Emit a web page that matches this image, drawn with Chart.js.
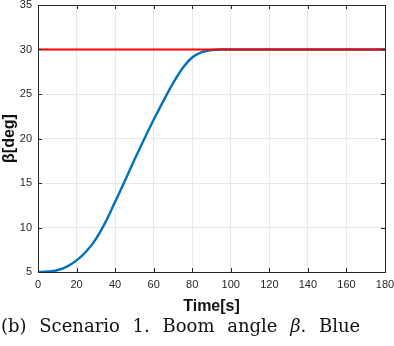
<!DOCTYPE html>
<html>
<head>
<meta charset="utf-8">
<script src="https://cdn.jsdelivr.net/npm/chart.js@4.4.1/dist/chart.umd.min.js"></script>
<style>
  html, body { margin: 0; padding: 0; background: #fff; }
  #wrap { position: relative; width: 394px; height: 346px; overflow: hidden; }
  #box { position: absolute; left: 0; top: 0; width: 394px; height: 316px; }
  #caption {
    position: absolute; left: 1px; top: 315px; white-space: nowrap;
    font-family: "DejaVu Serif", "Liberation Serif", serif; font-size: 18px;
    color: #111; word-spacing: 7px;
  }
</style>
</head>
<body>
<div id="wrap">
  <div id="box"><canvas id="chart"></canvas></div>
  <div id="caption">(b) Scenario 1. Boom angle <i>β</i>. Blue</div>
</div>
<script>
// data
const timeS   = [0, 5, 10, 15, 20, 25, 30, 35, 40, 45, 50, 55, 60, 65, 70, 75, 80, 85, 90, 95, 100, 180];
const betaDeg = [5, 5.05, 5.2, 5.6, 6.3, 7.3, 8.7, 10.6, 12.9, 15.2, 17.6, 19.9, 22.1, 24.2, 26.2, 27.9, 29.1, 29.7, 29.95, 30, 30, 30];
const refTime = [0, 180];
const refBeta = [30, 30];
const xTicks  = [0, 20, 40, 60, 80, 100, 120, 140, 160, 180];
const yTicks  = [5, 10, 15, 20, 25, 30, 35];

const axisColor = "#262626";
const font = { family: "'Liberation Sans', Arial, sans-serif", size: 11 };

// MATLAB style box with inward ticks
const boxTicks = {
  id: "boxTicks",
  afterDraw(chart) {
    const {ctx, chartArea: a, scales: {x, y}} = chart;
    ctx.save();
    ctx.strokeStyle = axisColor;
    ctx.lineWidth = 1;
    ctx.beginPath();
    xTicks.forEach(v => {
      const px = Math.round(x.getPixelForValue(v)) + 0.5;
      ctx.moveTo(px, a.bottom); ctx.lineTo(px, a.bottom - 4);
      ctx.moveTo(px, a.top); ctx.lineTo(px, a.top + 4);
    });
    yTicks.forEach(v => {
      const py = Math.round(y.getPixelForValue(v)) + 0.5;
      ctx.moveTo(a.left, py); ctx.lineTo(a.left + 4, py);
      ctx.moveTo(a.right, py); ctx.lineTo(a.right - 4, py);
    });
    ctx.stroke();
    ctx.strokeRect(Math.round(a.left) + 0.5, Math.round(a.top) + 0.5,
                   Math.round(a.right - a.left), Math.round(a.bottom - a.top));
    ctx.restore();
  }
};

new Chart(document.getElementById("chart"), {
  type: "line",
  data: {
    datasets: [
      {
        data: refTime.map((t, i) => ({x: t, y: refBeta[i]})),
        borderColor: "#ff0000", borderWidth: 2.2, pointRadius: 0, order: 0
      },
      {
        data: timeS.map((t, i) => ({x: t, y: betaDeg[i]})),
        borderColor: "#0072bd", borderWidth: 2.4, pointRadius: 0,
        cubicInterpolationMode: "monotone", order: 1
      }
    ]
  },
  options: {
    responsive: true, maintainAspectRatio: false, animation: false,
    layout: { padding: { top: 5, right: 9, left: 0, bottom: 0 } },
    plugins: { legend: { display: false }, tooltip: { enabled: false } },
    scales: {
      x: {
        type: "linear", min: 0, max: 180,
        afterBuildTicks: s => { s.ticks = xTicks.map(v => ({value: v})); },
        afterFit: s => { s.height = 44; s.paddingLeft = 0; s.paddingRight = 0; },
        grid: { color: "#e8e8e8", drawTicks: false },
        border: { display: false },
        ticks: { color: axisColor, font, padding: 6, maxRotation: 0 },
        title: {
          display: true, text: "Time[s]", color: "#111",
          font: { family: "'Liberation Sans', Arial, sans-serif", size: 16, weight: "bold" },
          padding: { top: 3, bottom: 0 }
        }
      },
      y: {
        min: 5, max: 35,
        afterBuildTicks: s => { s.ticks = yTicks.map(v => ({value: v})); },
        afterFit: s => { s.width = 38; s.paddingTop = 0; s.paddingBottom = 0; },
        grid: { color: "#e8e8e8", drawTicks: false },
        border: { display: false },
        ticks: { color: axisColor, font, padding: 6 },
        title: {
          display: true, text: "β[deg]", color: "#111",
          font: { family: "'Liberation Sans', Arial, sans-serif", size: 16, weight: "bold" },
          padding: { top: 0, bottom: 2 }
        }
      }
    }
  },
  plugins: [boxTicks]
});
</script>
</body>
</html>
